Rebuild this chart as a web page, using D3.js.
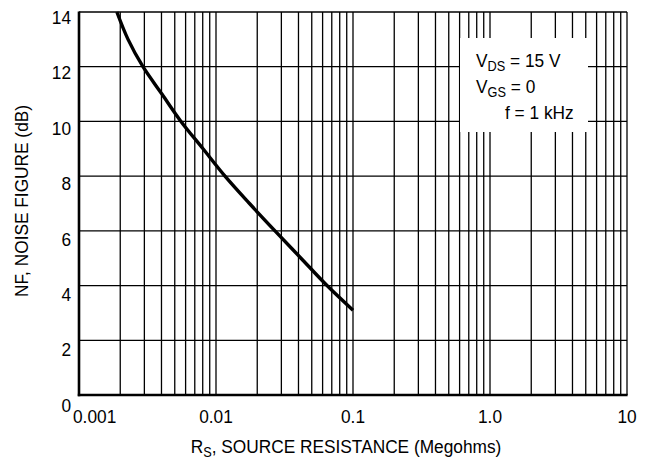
<!DOCTYPE html>
<html>
<head>
<meta charset="utf-8">
<script src="https://cdn.jsdelivr.net/npm/d3@7"></script>
<style>
  body { margin: 0; background: #fff; }
  svg { display: block; }
  text { font-family: "Liberation Sans", Arial, sans-serif; fill: #000; }
</style>
</head>
<body>
<script>
// source resistance (Megohms) vs noise figure (dB)
var rs = [0.00189, 0.00228, 0.00293, 0.00403, 0.00555, 0.00804, 0.01163, 0.01756, 0.02695, 0.04174, 0.0646, 0.1];
var nf = [14, 13, 12, 11, 10, 9, 8, 7, 6, 5, 4, 3.1];

var xTicks = [0.001, 0.01, 0.1, 1, 10];
var xTickLabels = ["0.001", "0.01", "0.1", "1.0", "10"];
var yTicks = [0, 2, 4, 6, 8, 10, 12, 14];

var width = 647, height = 460;
var pLeft = 79, pRight = 627, pTop = 12, pBottom = 395;
var squeeze = 0.91; // the original uses a condensed face

var svg = d3.select("body").append("svg")
    .attr("width", width)
    .attr("height", height);

var x = d3.scaleLog().domain([0.001, 10]).range([pLeft, pRight]);
var y = d3.scaleLinear().domain([0, 14]).range([pBottom, pTop]);
// labels sit a bit lower than the grid lines in the original
var yLab = d3.scaleLinear().domain([0, 14]).range([405, 17]);

function place(px, py) {
    return "translate(" + px + "," + py + ") scale(" + squeeze + ",1)";
}

// minor + major vertical grid, one line for each 1..9 of every decade
var vLines = [];
for (var e = -3; e <= 0; e++) {
    for (var k = 1; k <= 9; k++) vLines.push(k * Math.pow(10, e));
}
vLines.push(10);

svg.append("g").selectAll("line")
    .data(vLines)
    .enter().append("line")
    .attr("x1", function(d) { return x(d); })
    .attr("x2", function(d) { return x(d); })
    .attr("y1", pTop)
    .attr("y2", pBottom)
    .attr("stroke", "#000")
    .attr("stroke-width", 1.3);

svg.append("g").selectAll("line")
    .data(yTicks)
    .enter().append("line")
    .attr("x1", pLeft)
    .attr("x2", pRight)
    .attr("y1", function(d) { return y(d); })
    .attr("y2", function(d) { return y(d); })
    .attr("stroke", "#000")
    .attr("stroke-width", 1.3);

// heavier left and bottom axis lines
svg.append("line")
    .attr("x1", pLeft).attr("x2", pLeft)
    .attr("y1", pTop - 0.6).attr("y2", pBottom + 1.2)
    .attr("stroke", "#000").attr("stroke-width", 2.6);
svg.append("line")
    .attr("x1", pLeft - 1.2).attr("x2", pRight + 0.6)
    .attr("y1", pBottom).attr("y2", pBottom)
    .attr("stroke", "#000").attr("stroke-width", 2.6);

// condition box, white, covers the grid
svg.append("rect")
    .attr("x", 460).attr("y", 38)
    .attr("width", 128).attr("height", 94)
    .attr("fill", "#fff");

var leg = svg.append("g").attr("font-size", 19);
var t1 = leg.append("text").attr("transform", place(476, 67));
t1.append("tspan").text("V");
t1.append("tspan").attr("font-size", 14).attr("dy", 4).text("DS");
t1.append("tspan").attr("dy", -4).text(" = 15 V");
var t2 = leg.append("text").attr("transform", place(476, 93));
t2.append("tspan").text("V");
t2.append("tspan").attr("font-size", 14).attr("dy", 4).text("GS");
t2.append("tspan").attr("dy", -4).text(" = 0");
leg.append("text").attr("transform", place(505, 119)).text("f = 1 kHz");

// the curve
var pts = rs.map(function(d, i) { return [d, nf[i]]; });
svg.append("path")
    .datum(pts)
    .attr("fill", "none")
    .attr("stroke", "#000")
    .attr("stroke-width", 3.4)
    .attr("d", d3.line()
        .x(function(d) { return x(d[0]); })
        .y(function(d) { return y(d[1]); })
        .curve(d3.curveCatmullRom.alpha(0.5)));

// tick labels
svg.append("g").selectAll("text")
    .data(yTicks)
    .enter().append("text")
    .attr("transform", function(d) { return place(71, yLab(d)); })
    .attr("dy", "0.36em")
    .attr("text-anchor", "end")
    .attr("font-size", 19)
    .text(function(d) { return d; });

svg.append("g").selectAll("text")
    .data(xTicks)
    .enter().append("text")
    .attr("transform", function(d, i) { return place(i == 0 ? x(d) - 6 : x(d), 423); })
    .attr("text-anchor", function(d, i) { return i == 0 ? "start" : "middle"; })
    .attr("font-size", 19)
    .text(function(d, i) { return xTickLabels[i]; });

// axis titles
var xt = svg.append("text")
    .attr("transform", place(346, 453))
    .attr("text-anchor", "middle")
    .attr("font-size", 19);
xt.append("tspan").text("R");
xt.append("tspan").attr("font-size", 14).attr("dy", 4).text("S");
xt.append("tspan").attr("dy", -4).text(", SOURCE RESISTANCE (Megohms)");

svg.append("text")
    .attr("transform", "translate(28,201) rotate(-90) scale(" + squeeze + ",1)")
    .attr("text-anchor", "middle")
    .attr("font-size", 19)
    .text("NF, NOISE FIGURE (dB)");
</script>
</body>
</html>
